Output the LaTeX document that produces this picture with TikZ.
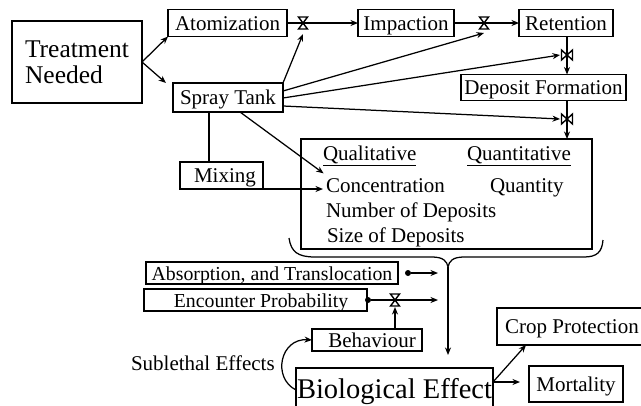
\documentclass[tikz,border=0pt]{standalone}
\usepackage{fontspec}
\setmainfont{Liberation Serif}
\usetikzlibrary{arrows.meta}
\begin{document}
\begin{tikzpicture}[x=1pt,y=-1pt,
  every node/.style={inner sep=0pt, outer sep=0pt},
  box/.style={draw, line width=1.4pt, font=\fontsize{21}{24}\selectfont},
  sbox/.style={box, text height=14.5pt, text depth=0pt},
  txt/.style={font=\fontsize{21}{24}\selectfont, anchor=base west},
  conn/.style={line width=1.25pt},
  arr/.style={conn, -{Stealth[length=7.5pt,width=6pt]}},
  valve/.style={line width=1.4pt, fill=white, line join=miter},
  dot/.style={circle, fill, minimum size=6pt}
]
\useasboundingbox (0,0) rectangle (641,405);
\newcommand{\valveH}[1]{\draw[valve] (#1) ++(-4.5,-6) -- ++(9,0) -- ++(-9,12) -- ++(9,0) -- cycle;}
\newcommand{\valveV}[1]{\draw[valve] (#1) ++(-5.5,-5) -- ++(0,10) -- ++(11,-10) -- ++(0,10) -- cycle;}

% boxes
\node[box, minimum width=130pt, minimum height=82pt, align=left, font=\fontsize{25.5}{26}\selectfont] (treat) at (77,62) {Treatment\\Needed};
\node[sbox, minimum width=119pt, minimum height=27pt] (atom) at (227.5,23) {Atomization};
\node[sbox, minimum width=110pt, minimum height=29pt] (spray) at (228,97.5) {Spray Tank};
\node[sbox, minimum width=96pt, minimum height=27pt] (imp) at (406,23) {Impaction};
\node[sbox, minimum width=94pt, minimum height=27pt] (ret) at (566,23) {Retention};
\node[sbox, minimum width=165pt, minimum height=26pt] (dep) at (543.5,87.5) {Deposit Formation};
\node[box, minimum width=291pt, minimum height=110pt] (big) at (446.5,194) {};
\node[sbox, minimum width=83pt, minimum height=27pt] (mix) at (221.5,175.5) {\hspace*{7pt}Mixing};
\node[sbox, minimum width=252pt, minimum height=22pt, font=\fontsize{19.8}{24}\selectfont] (abs) at (272,273) {Absorption, and Translocation};
\node[sbox, minimum width=223pt, minimum height=22pt, font=\fontsize{19.8}{24}\selectfont] (enc) at (255.5,300) {\hspace*{11pt}Encounter Probability};
\node[sbox, minimum width=110pt, minimum height=22pt] (beh) at (367,340) {\hspace*{10pt}Behaviour};
\node[box, minimum width=197pt, minimum height=44pt, font=\fontsize{28.5}{30}\selectfont, text height=17pt, text depth=0pt] (bio) at (394.5,390) {Biological Effect};
\node[sbox, minimum width=146pt, minimum height=37pt] (crop) at (570,326.5) {\hspace*{4pt}Crop Protection};
\node[sbox, minimum width=94pt, minimum height=36pt] (mort) at (576,384) {Mortality};

% texts
\node[txt] (qual) at (323,160) {\underline{Qualitative}};
\node[txt] (quant) at (467,160) {\underline{Quantitative}};
\node[txt] (conc) at (326,192) {Concentration};
\node[txt] (qty) at (490,192) {Quantity};
\node[txt] (num) at (326,217) {Number of Deposits};
\node[txt] (size) at (327,242) {Size of Deposits};
\node[txt] (sub) at (131,370) {Sublethal Effects};

% valve positions
\coordinate (v1) at (303,23);
\coordinate (v2) at (484,23);
\coordinate (v3) at (567,55);
\coordinate (v4) at (567,119);
\coordinate (v5) at (395,300);
\coordinate (bt) at (448,267);

% connectors
\draw[arr] (treat.east) -- (atom.south west);
\draw[arr] (treat.east) -- ([xshift=-7pt]spray.north west);
\draw[conn] (atom.east) -- (v1);
\draw[arr] (v1) -- (imp.west);
\draw[conn] (imp.east) -- (v2);
\draw[arr] (v2) -- (ret.west);
\draw[conn] (v3 |- ret.south) -- (v3);
\draw[arr] (v3) -- (v3 |- dep.north);
\draw[conn] (v4 |- dep.south) -- (v4);
\draw[arr] (v4) -- (v4 |- big.north);

\draw[arr] (spray.north east) -- ([yshift=-11pt]v1);
\draw[arr] ([yshift=-8pt]spray.north east) -- ([yshift=-10pt]v2);
\draw[arr] ([yshift=-15pt]spray.north east) -- ([xshift=-7pt]v3);
\draw[arr] ([yshift=-23pt]spray.north east) -- ([xshift=-7pt]v4);
\draw[conn] ([xshift=-19pt]spray.south) -- ([xshift=-19pt]spray.south |- mix.north);
\draw[arr, shorten >=3pt] ([xshift=12pt]spray.south) -- ([yshift=10pt]conc.west);
\draw[arr, shorten >=3pt] (mix.south east) -- (mix.south east -| conc.west);

% brace
\draw[conn] (289,238) .. controls (291,252) and (298,257) .. (315,257) -- (432,257)
  .. controls (443,257) and (447,261) .. (bt)
  .. controls (449,261) and (453,257) .. (464,257) -- (584,257)
  .. controls (597,257) and (602,252) .. (603,240);
\draw[arr, shorten >=13pt] (bt) -- (bt |- bio.north);

\node[dot] (d1) at (408,273) {};
\draw[arr, shorten >=10pt] (d1) -- (d1 -| bt);
\node[dot] (d2) at ([xshift=1pt]enc.east) {};
\draw[conn] (d2) -- (v5);
\draw[arr, shorten >=10pt] (v5) -- (v5 -| bt);
\draw[arr] (v5 |- beh.north) -- ([yshift=-7pt]v5);

\draw[arr] (bio.west) .. controls +(-24,-12) and +(-32,-2) .. (beh.west);
\draw[arr] ([yshift=8pt]bio.east) -- ([xshift=29pt]crop.south west);
\draw[arr, shorten >=9pt] ([yshift=8pt]bio.east) -- ([yshift=8pt]bio.east -| mort.west);

% valves
\valveH{v1}
\valveH{v2}
\valveV{v3}
\valveV{v4}
\valveH{v5}
\end{tikzpicture}
\end{document}
